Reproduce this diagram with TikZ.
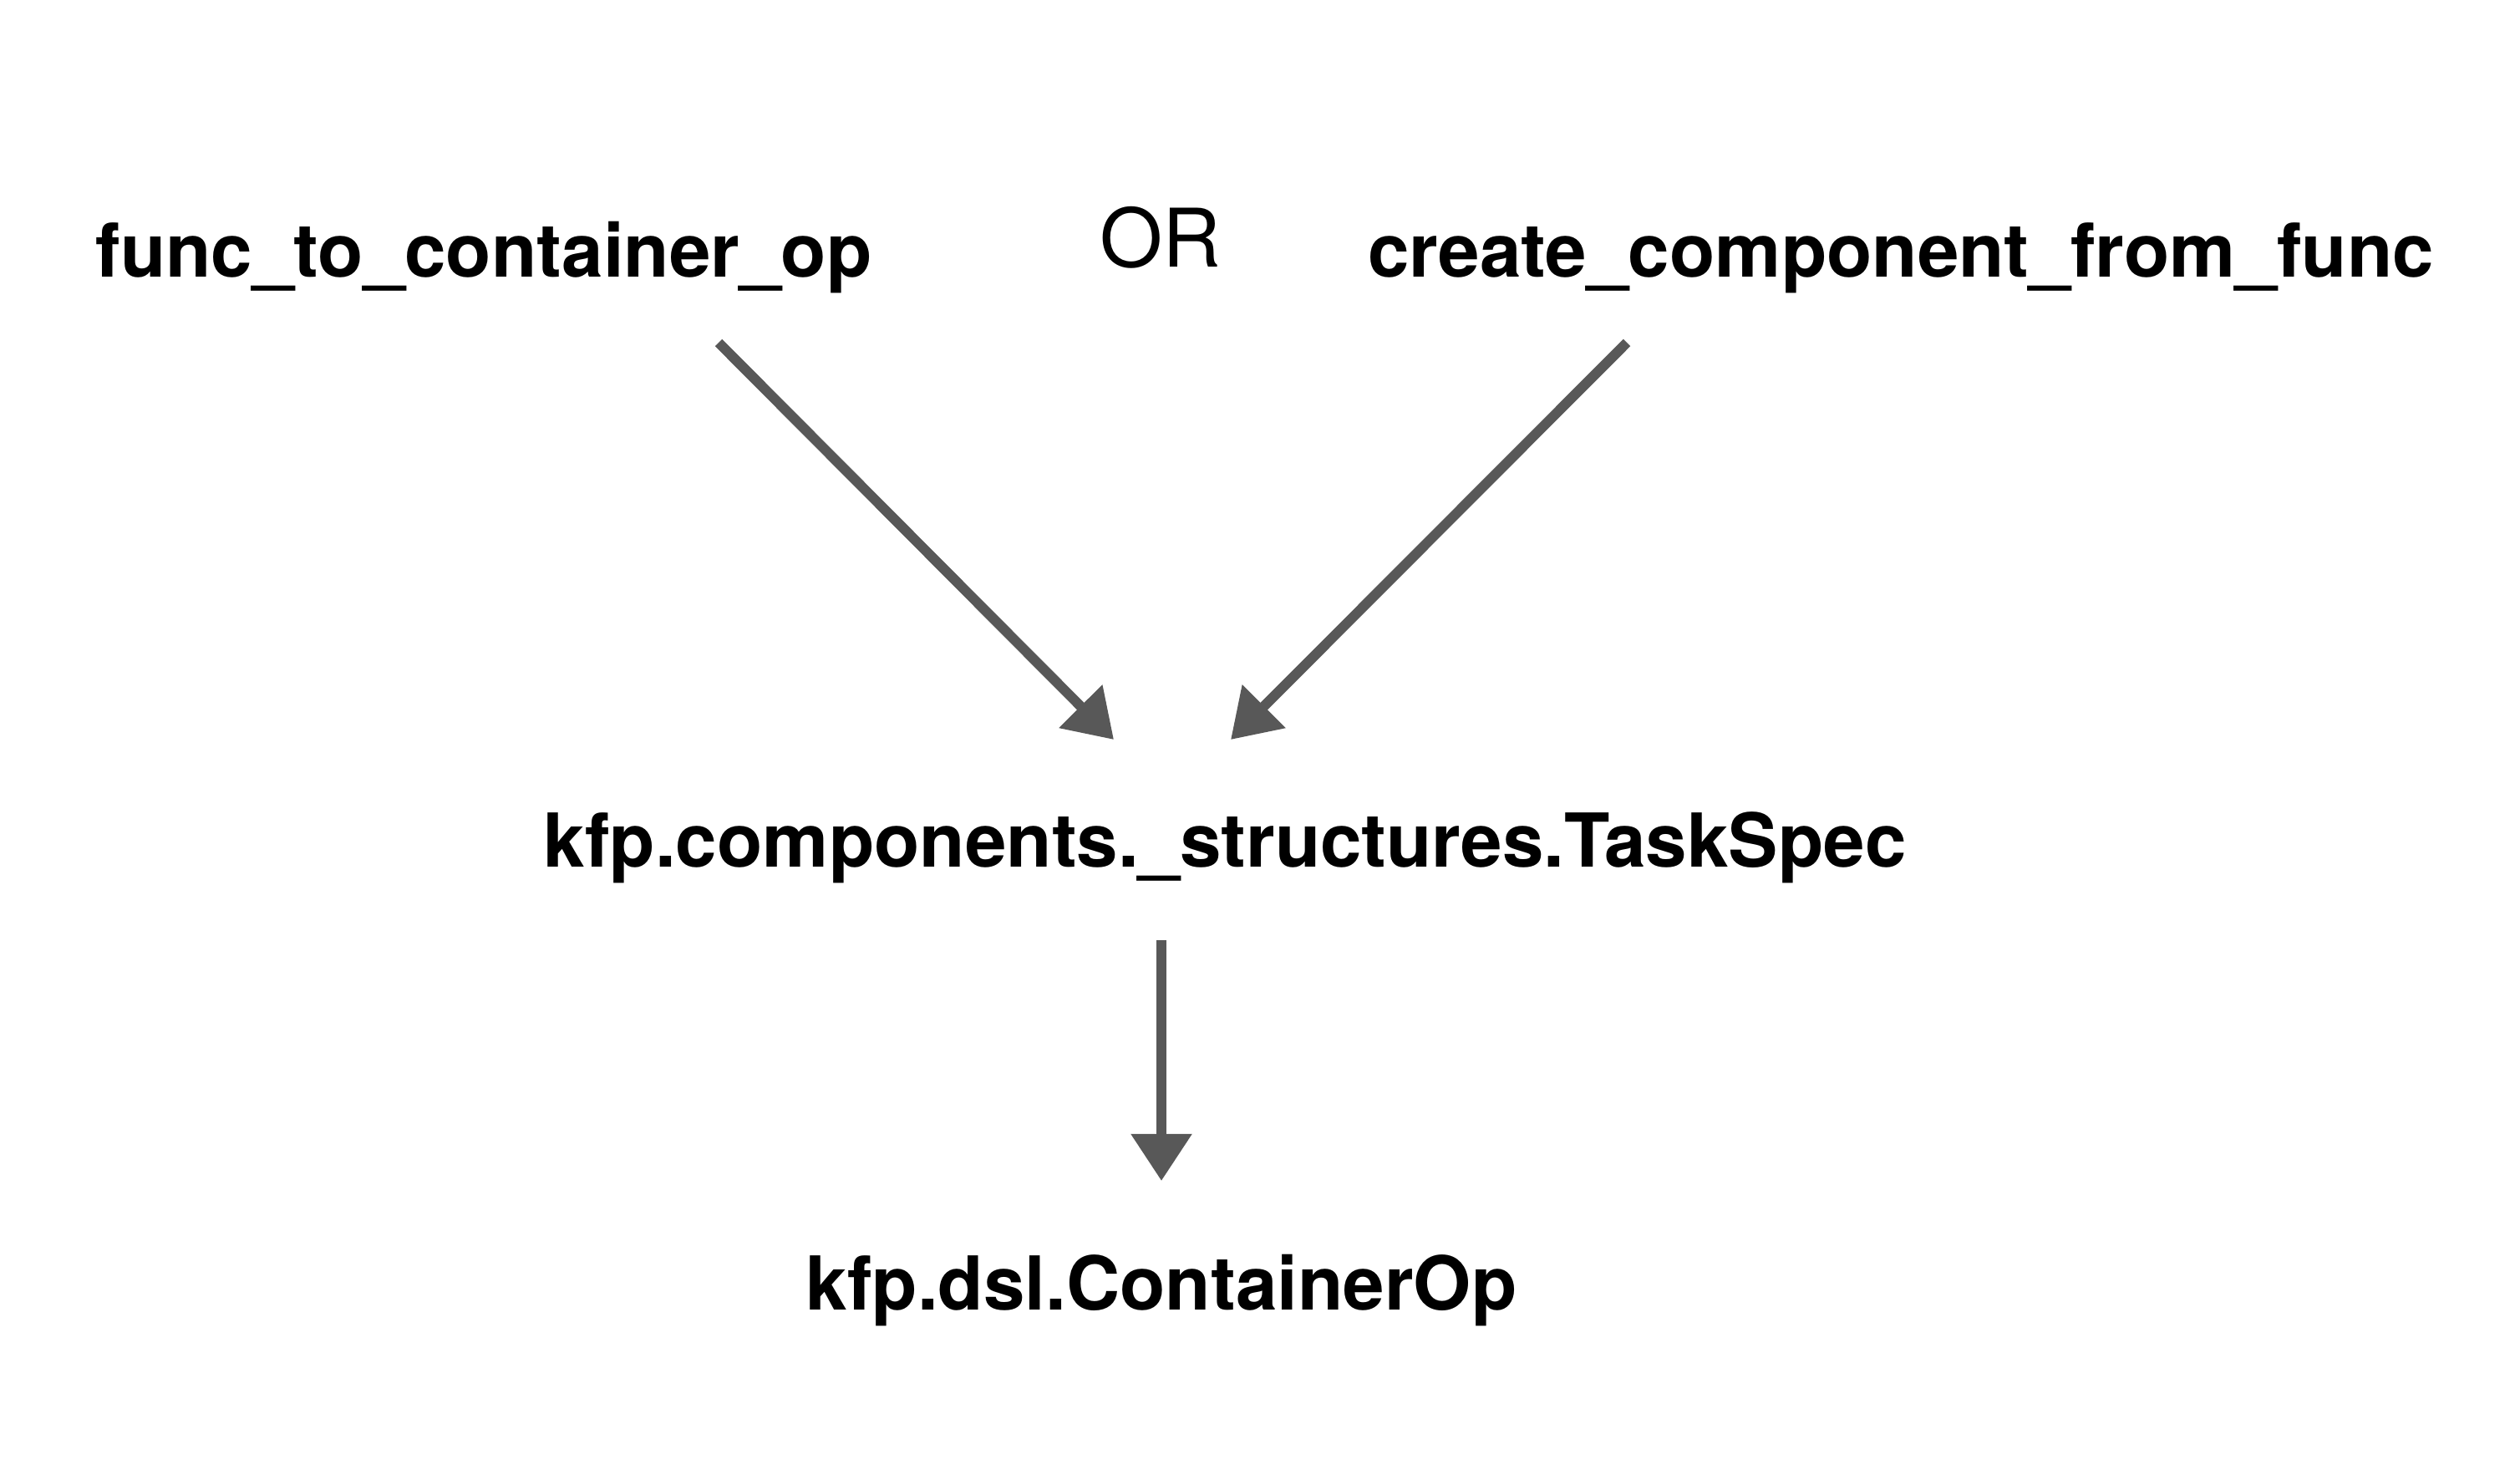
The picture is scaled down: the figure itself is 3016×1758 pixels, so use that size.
\documentclass[tikz,border=0pt]{standalone}
\usepackage{fontspec}
\setmainfont{TeX Gyre Heros}
\usetikzlibrary{arrows.meta}
\definecolor{arrowgray}{HTML}{585858}
\tikzset{
  label/.style={inner sep=0pt, anchor=base, font=\fontsize{25.3pt}{30pt}\selectfont\bfseries},
  ortext/.style={inner sep=0pt, anchor=base, font=\fontsize{27.5pt}{32pt}\selectfont},
  flow/.style={draw=arrowgray, line width=3.4pt, -{Triangle[length=16pt,width=20pt]}, arrowgray}
}
\begin{document}
\begin{tikzpicture}[x=0.01cm,y=-0.01cm]
\useasboundingbox (0,0) rectangle (3016,1758);
\node[label] (f1) at (579,331) {func\_to\_container\_op};
\node[ortext] (orr) at (1389,320) {OR};
\node[label] (f2) at (2275,331) {create\_component\_from\_func};
\node[label] (task) at (1466,1037) {kfp.components.\_structures.TaskSpec};
\node[label] (cop) at (1390,1567) {kfp.dsl.ContainerOp};
\coordinate (l1s) at (860,410);
\coordinate (l1e) at (1333,885);
\coordinate (r1s) at (1947,410);
\coordinate (r1e) at (1473,885);
\coordinate (d1s) at (1390,1125);
\coordinate (d1e) at (1390,1413);
\draw[flow] (l1s) -- (l1e);
\draw[flow] (r1s) -- (r1e);
\draw[flow] (d1s) -- (d1e);
\end{tikzpicture}
\end{document}
